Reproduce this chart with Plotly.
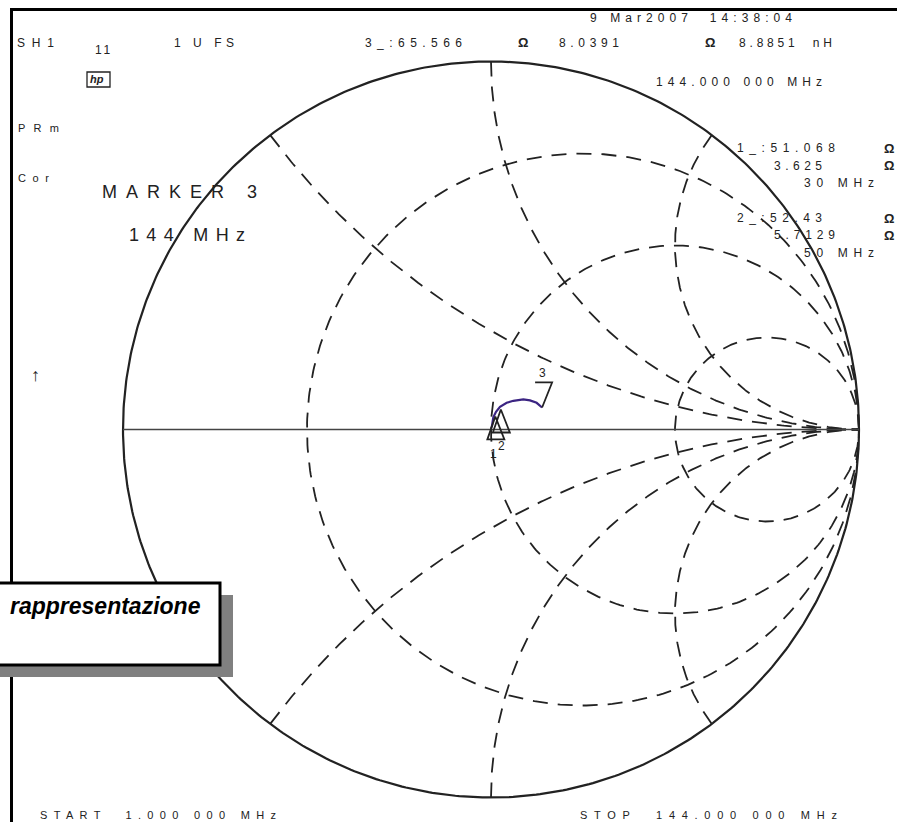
import numpy as np
import plotly.graph_objects as go

# ---------------- data ----------------
Z0 = 50.0
r_circles = [1/3, 1.0, 3.0]          # constant-resistance grid circles (normalised)
x_arcs = [0.5, 1.0, 2.0]             # constant-reactance grid arcs (normalised, +/-)

trace_re = [0.002, 0.004, 0.0063, 0.0136, 0.0245, 0.0426, 0.0606, 0.0878, 0.106, 0.124, 0.1387]
trace_im = [0.006, 0.020, 0.033, 0.048, 0.0617, 0.0725, 0.078, 0.0818, 0.079, 0.0725, 0.0599]

marker_ids = ["1", "2", "3"]
marker_freq = ["30 MHz", "50 MHz", "144 MHz"]
marker_R = [51.068, 52.43, 65.566]
marker_X = [3.625, 5.7129, 8.0391]

# ---------------- layout geometry ----------------
W, H = 897, 822
CX, CY, RAD = 491.0, 429.5, 368.0
FONT = "Liberation Sans, Arial, sans-serif"
INK = "#222222"

# Arial / Liberation Sans advance widths (1/1000 em) used to spread text like the plotter font
AW = {' ': 278, '.': 278, ':': 278, '_': 556, 'A': 667, 'C': 722, 'E': 667, 'F': 611,
      'H': 722, 'K': 667, 'M': 833, 'O': 778, 'P': 667, 'R': 722, 'S': 667, 'T': 611,
      'U': 722, 'a': 556, 'm': 833, 'n': 556, 'o': 556, 'r': 333, 'z': 500}
def natural_width(s, size):
    return sum(AW.get(ch, 556) for ch in s) * size / 1000.0

fig = go.Figure()

def add_line(xs, ys, color=INK, width=1.8, dash="solid"):
    fig.add_trace(go.Scatter(x=xs, y=ys, mode="lines", hoverinfo="skip",
                             line=dict(color=color, width=width, dash=dash),
                             showlegend=False))

GRID_DASH = "15px,10px"

# constant resistance circles
for r in r_circles:
    c, rad = r / (1 + r), 1 / (1 + r)
    t = np.linspace(0, 2 * np.pi, 400)
    add_line(c + rad * np.cos(t), rad * np.sin(t), dash=GRID_DASH)

# constant reactance arcs
for xv in x_arcs:
    for s in (1, -1):
        x = s * xv
        cy = 1 / x
        rad = abs(1 / x)
        gr = (x * x - 1) / (x * x + 1)
        gi = 2 * x / (x * x + 1)
        a0 = np.arctan2(gi - cy, gr - 1)
        a1 = -np.pi / 2 if s > 0 else np.pi / 2
        if s > 0 and a1 < a0:
            a1 += 2 * np.pi
        if s < 0 and a1 > a0:
            a1 -= 2 * np.pi
        t = np.linspace(a0, a1, 300)
        add_line(1 + rad * np.cos(t), cy + rad * np.sin(t), dash=GRID_DASH)

# outer circle and real axis
t = np.linspace(0, 2 * np.pi, 600)
add_line(np.cos(t), np.sin(t), width=2.2)
add_line([-1, 1], [0, 0], color="#444444", width=1.5)

# trace
add_line(trace_re, trace_im, color="#3b2482", width=2.2)

# markers
px = 1 / RAD
for mid, R_, X_ in zip(marker_ids, marker_R, marker_X):
    z = complex(R_, X_) / Z0
    g = (z - 1) / (z + 1)
    if mid == "3":
        xs = [g.real - 7 * px, g.real + 10 * px, g.real]
        ys = [g.imag + 25 * px, g.imag + 25 * px, g.imag]
        lx, ly = g.real, g.imag + 34 * px
    else:
        xs = [g.real, g.real - 8 * px, g.real + 9 * px, g.real]
        ys = [g.imag, g.imag - 23 * px, g.imag - 23 * px, g.imag]
        lx = g.real - 2 * px if mid == "1" else g.real + 1 * px
        ly = g.imag - (38 if mid == "1" else 36) * px
    add_line(xs, ys, color=INK, width=1.8)
    fig.add_annotation(x=lx, y=ly, xref="x", yref="y", text=mid, showarrow=False,
                       font=dict(family=FONT, size=12, color=INK))

# ---------------- text ----------------
def ann(text, x, y, size=12, anchor="left", bold=False, italic=False, color=INK, x2=None):
    t = text.replace(" ", "\u00a0")
    if bold:
        t = "<b>" + t + "</b>"
    if italic:
        t = "<i>" + t + "</i>"
    if x2 is not None and len(text) > 1:
        ls = (x2 - x - natural_width(text, size)) / (len(text) - 1)
        t = '<span style="letter-spacing:%.2fpx">%s</span>' % (ls, t)
    fig.add_annotation(x=x / W, y=1 - y / H, xref="paper", yref="paper", text=t,
                       showarrow=False, xanchor=anchor, yanchor="middle",
                       font=dict(family=FONT, size=size, color=color))

ann("9 Mar2007  14:38:04", 588, 18, x2=790)
ann("SH1", 15, 43, x2=52)
ann("11", 93, 50, x2=109)
ann("1 U FS", 172, 43, x2=232)
ann("3_:65.566", 363, 43, x2=460)
ann("Ω", 516, 43, size=13, bold=True)
ann("8.0391", 557, 43, x2=617)
ann("Ω", 703, 43, size=13, bold=True)
ann("8.8851  nH", 737, 43, x2=830)
ann("144.000 000 MHz", 654, 82, x2=820)
ann("PRm", 16, 128, size=11, x2=57)
ann("Cor", 16, 178, size=11, x2=47)
ann("MARKER 3", 100, 192, size=18, x2=255)
ann("144 MHz", 127, 235, size=18, x2=243)
ann("↑", 35, 375, size=18, bold=True, anchor="center")

ann("1_:51.068", 735, 148, x2=833)
ann("3.625", 772, 166, x2=820)
ann("30 MHz", 802, 183, x2=872)
ann("2_:52.43", 735, 218, x2=820)
ann("5.7129", 772, 235, x2=833)
ann("50 MHz", 802, 253, x2=872)
for yy in (148, 166, 218, 235):
    ann("Ω", 896, yy, size=13, bold=True, anchor="right")

ann("START  1.000 000 MHz", 38, 815, size=11, x2=275)
ann("STOP  144.000 000 MHz", 578, 815, size=11, x2=835)

# hp logo
ann("hp", 97, 79, size=11, anchor="center", bold=True, italic=True)

shapes = []
def prect(x0, y0, x1, y1, **kw):
    shapes.append(dict(type="rect", xref="paper", yref="paper",
                       x0=x0 / W, x1=x1 / W, y0=1 - y1 / H, y1=1 - y0 / H, **kw))
def pline(x0, y0, x1, y1, width, color="black"):
    shapes.append(dict(type="line", xref="paper", yref="paper",
                       x0=x0 / W, x1=x1 / W, y0=1 - y0 / H, y1=1 - y1 / H,
                       line=dict(color=color, width=width)))

pline(11.5, 9.5, W + 2, 9.5, 3)
pline(11.5, 8, 11.5, H + 2, 3)
prect(87, 72, 110, 87, line=dict(color=INK, width=1.3), fillcolor="rgba(0,0,0,0)")
# caption box with shadow
prect(-10, 595, 233, 677, line=dict(width=0), fillcolor="#808080")
prect(-10, 583, 220, 665, line=dict(color="black", width=3), fillcolor="white")
fig.update_layout(shapes=shapes)
fig.add_annotation(x=203 / W, y=1 - 606 / H, xref="paper", yref="paper",
                   text="<b><i>rappresentazione</i></b>", showarrow=False,
                   xanchor="right", yanchor="middle",
                   font=dict(family=FONT, size=23, color="black"))

fig.update_layout(
    width=W, height=H, margin=dict(l=0, r=0, t=0, b=0),
    paper_bgcolor="white", plot_bgcolor="white", showlegend=False,
    xaxis=dict(range=[(0 - CX) / RAD, (W - CX) / RAD], visible=False, fixedrange=True),
    yaxis=dict(range=[(CY - H) / RAD, CY / RAD], visible=False, fixedrange=True),
)
fig.write_html("out.html")
